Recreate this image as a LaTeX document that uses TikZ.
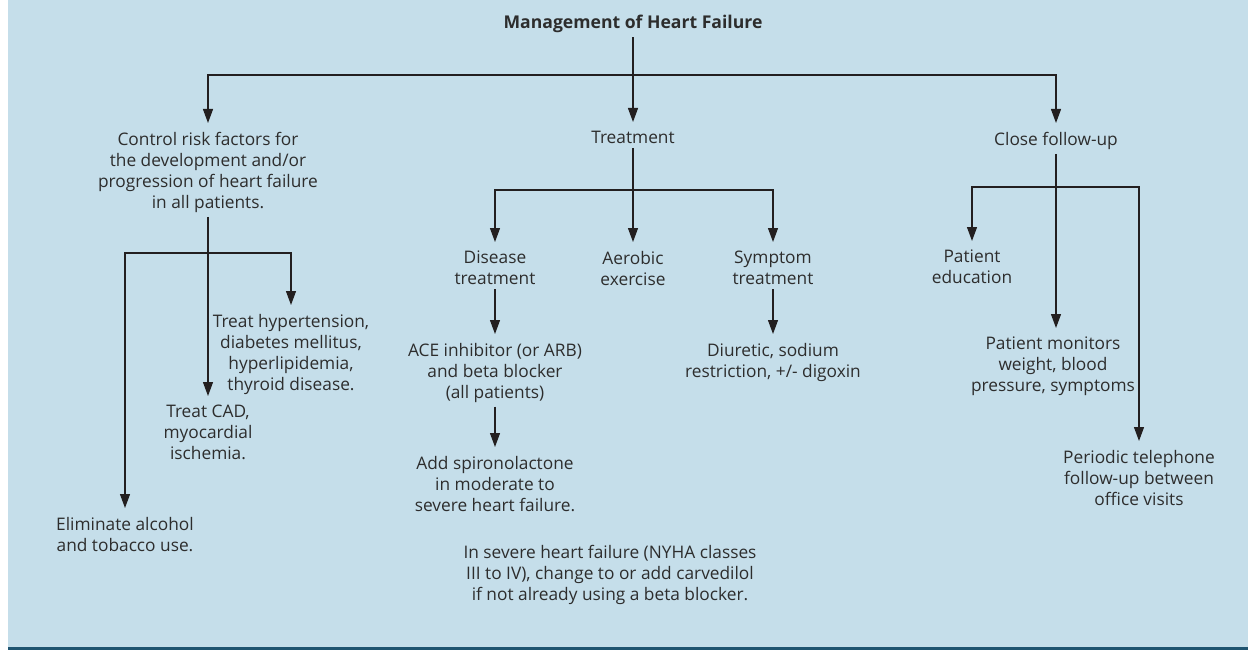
\documentclass[tikz,border=0pt]{standalone}
\usepackage{fontspec}
\setmainfont{Open Sans}
\usetikzlibrary{arrows.meta}
\definecolor{bgblue}{RGB}{197,222,234}
\definecolor{barblue}{RGB}{31,84,112}
\definecolor{txt}{RGB}{45,45,45}
\definecolor{ln}{RGB}{35,31,32}
\begin{document}
\begin{tikzpicture}[x=1pt,y=-1pt,
  lbl/.style={font=\fontsize{17.3}{21}\selectfont, text=txt, align=center, anchor=north, inner xsep=2pt, inner ysep=4pt},
  ttl/.style={font=\fontsize{17.6}{21}\selectfont\bfseries, text=txt, anchor=north, inner sep=4pt},
  con/.style={draw=ln, line width=1.2pt},
  arr/.style={con, -{Triangle[length=14pt,width=10pt]}, shorten >=5pt}]
\useasboundingbox (0,0) rectangle (1248,650);
\fill[bgblue] (8,0) rectangle (1248,647);
\fill[barblue] (8,647) rectangle (1248,650);
% nodes
\node[ttl] (title) at (633,11) {Management of Heart Failure};
\node[lbl] (ctrl) at (208,128) {Control risk factors for\\the development and/or\\progression of heart failure\\in all patients.};
\node[lbl] (treat) at (633,127) {Treatment};
\node[lbl] (follow) at (1056,128) {Close follow-up};
\node[lbl] (hyp) at (291,310) {Treat hypertension,\\diabetes mellitus,\\hyperlipidemia,\\thyroid disease.};
\node[lbl] (cad) at (208,401) {Treat CAD,\\myocardial\\ischemia.};
\node[lbl] (elim) at (125,513) {Eliminate alcohol\\and tobacco use.};
\node[lbl] (dis) at (495,247) {Disease\\treatment};
\node[lbl] (aer) at (633,247) {Aerobic\\exercise};
\node[lbl] (sym) at (773,247) {Symptom\\treatment};
\node[lbl] (ace) at (495,339) {ACE inhibitor (or ARB)\\and beta blocker\\(all patients)};
\node[lbl] (spiro) at (495,452) {Add spironolactone\\in moderate to\\severe heart failure.};
\node[lbl] (note) at (610,541) {In severe heart failure (NYHA classes\\III to IV), change to or add carvedilol\\if not already using a beta blocker.};
\node[lbl] (diur) at (773,339) {Diuretic, sodium\\restriction, +/- digoxin};
\node[lbl] (edu) at (972,246) {Patient\\education};
\node[lbl] (mon) at (1053,333) {Patient monitors\\weight, blood\\pressure, symptoms};
\node[lbl] (tel) at (1139,446) {Periodic telephone\\follow-up between\\office visits};
% junctions
\coordinate (b1) at (633,75);
\coordinate (b2) at (208,253);
\coordinate (b3) at (633,190);
\coordinate (b4) at (1056,187);
% connectors
\draw[arr] (title.south) -- (treat.north);
\draw[arr] (b1) -| (ctrl.north);
\draw[arr] (b1) -| (follow.north);
\draw[arr] (ctrl.south) -- (cad.north);
\draw[arr] (b2) -| (elim.north);
\draw[arr] (b2) -| (hyp.north);
\draw[arr] (treat.south) -- (aer.north);
\draw[arr] (b3) -| (dis.north);
\draw[arr] (b3) -| (sym.north);
\draw[arr] (dis.south) -- (ace.north);
\draw[arr] (ace.south) -- (spiro.north);
\draw[arr] (sym.south) -- (diur.north);
\draw[arr] (follow.south) -- (follow.south |- mon.north);
\draw[arr] (b4) -| (edu.north);
\draw[arr] (b4) -| (tel.north);
\end{tikzpicture}
\end{document}
